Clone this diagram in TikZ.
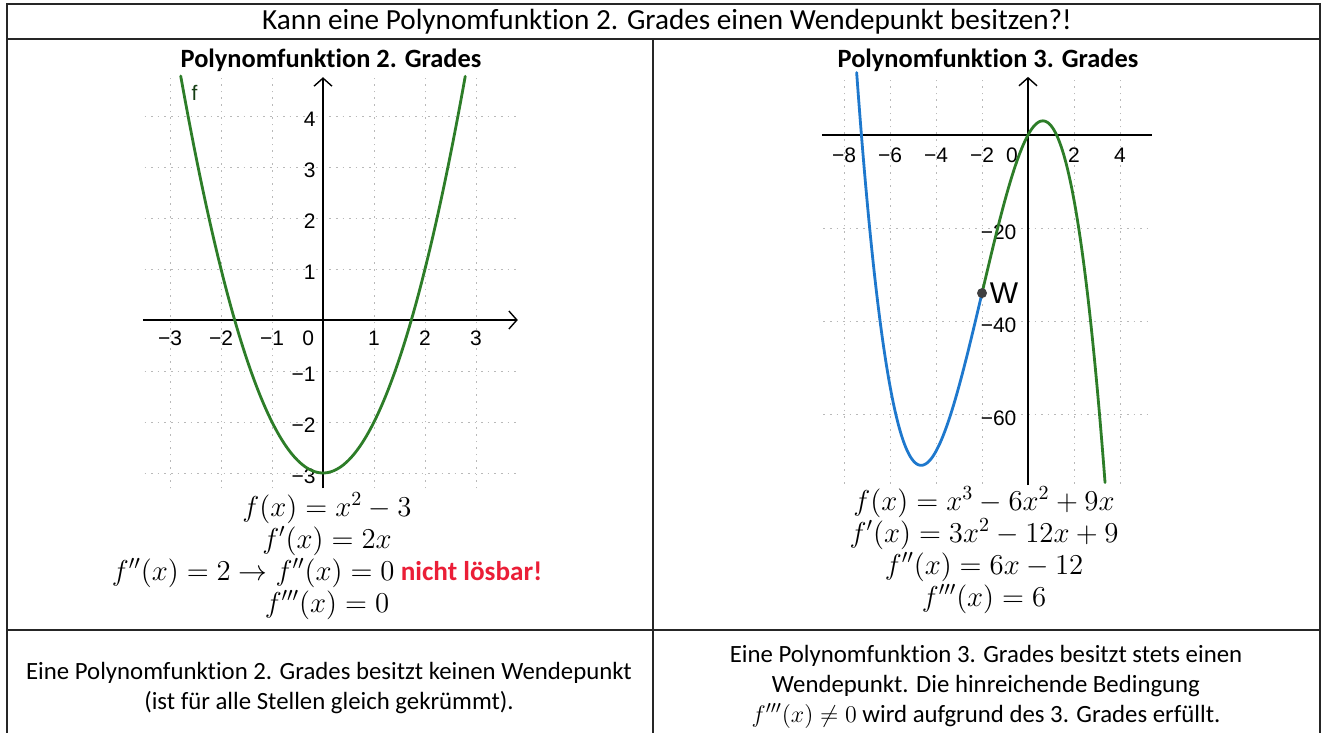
\documentclass[tikz,border=0pt]{standalone}
\usepackage{fontspec}
\setmainfont{Carlito}[Ligatures=NoCommon]
\newfontfamily\axisfont{Liberation Sans}
\usetikzlibrary{arrows.meta,positioning}

\definecolor{curvegreen}{RGB}{45,125,40}
\definecolor{curveblue}{RGB}{30,120,205}
\definecolor{hintred}{RGB}{235,30,55}
\definecolor{gridgray}{RGB}{185,185,185}

\begin{document}
\begin{tikzpicture}[
  x=0.5pt, y=-0.5pt,
  tab/.style={line width=0.9pt, draw=black!85},
  head/.style={font=\bfseries\fontsize{13.2}{15}\selectfont},
  eqs/.style={align=center, font=\fontsize{13.6}{16}\selectfont},
  note/.style={align=center, font=\fontsize{12.4}{15}\selectfont},
  tick/.style={font=\axisfont\fontsize{10.5}{11}\selectfont, inner sep=1pt},
  axis/.style={line width=0.7pt, -{Straight Barb[length=4pt,width=9pt]}},
  gridline/.style={gridgray, line width=0.4pt, dash pattern=on 0.8pt off 2.5pt},
  graph/.style={line width=1.4pt, line cap=round}
]
\fill[white] (0,0) rectangle (1327,733);
\useasboundingbox (0,0) rectangle (1327,733);

% table
\draw[tab] (7,733) -- (7,4) -- (1320,4) -- (1320,733);
\draw[tab] (7,39) -- (1320,39);
\draw[tab] (653,39) -- (653,733);
\draw[tab] (7,630) -- (1320,630);

\node[font=\fontsize{14.6}{16}\selectfont] (title) at (667,22) {Kann eine Polynomfunktion 2. Grades einen Wendepunkt besitzen?!};
\node[head] (headleft) at (331,60) {Polynomfunktion 2. Grades};
\node[head] (headright) at (988,60) {Polynomfunktion 3. Grades};

% f(x) = x^2 - 3
\begin{scope}[shift={(323,320)}, x=25.5pt, y=25.5pt]
  \foreach \gx in {-3,...,3}
    \draw[gridline] (\gx,-3.3) -- (\gx,4.8);
  \foreach \gy in {-3,...,4}
    \draw[gridline] (-3.5,\gy) -- (3.8,\gy);
  \draw[axis] (-3.53,0) -- (3.82,0);
  \draw[axis] (0,-3.3) -- (0,4.76);
  \foreach \gx/\lab in {-3/−3,-2/−2,-1/−1,1/1,2/2,3/3}
    \node[tick] at (\gx,-0.36) {\lab};
  \node[tick] at (-0.29,-0.36) {0};
  \foreach \gy/\lab in {-3/−3,-2/−2,-1/−1,1/1,2/2,3/3,4/4}
    \node[tick, anchor=east] at (-0.1,\gy-0.07) {\lab};
  \draw[graph, curvegreen] plot[domain=-2.79:2.79, samples=90, smooth] (\x,{(\x)*(\x)-3});
  \node[tick, text=curvegreen!50!black] (flab) at (-2.52,4.45) {f};
\end{scope}

% f(x) = x^3 - 6x^2 + 9x
\begin{scope}[shift={(1028,135)}, x=11.5pt, y=2.325pt]
  \foreach \gx in {-8,-6,...,4}
    \draw[gridline] (\gx,-75) -- (\gx,12.5);
  \foreach \gy in {-60,-40,-20}
    \draw[gridline] (-8.9,\gy) -- (5.3,\gy);
  \draw[line width=0.7pt] (-8.96,0) -- (5.39,0);
  \draw[axis] (0,-75.3) -- (0,12.5);
  \foreach \gx/\lab in {-8/−8,-6/−6,-4/−4,-2/−2,2/2,4/4}
    \node[tick] at (\gx,-4.3) {\lab};
  \node[tick] at (-0.7,-4.3) {0};
  \foreach \gy/\lab in {-20/−20,-40/−40,-60/−60}
    \node[tick, anchor=east] at (-0.4,\gy-0.9) {\lab};
  \draw[graph, curveblue] plot[domain=-7.45:-2, samples=90, smooth] (\x,{-(\x)*(\x)*(\x)-6*(\x)*(\x)+9*(\x)});
  \draw[graph, curvegreen] plot[domain=-2:3.35, samples=90, smooth] (\x,{-(\x)*(\x)*(\x)-6*(\x)*(\x)+9*(\x)});
  \node[circle, fill=black!75, minimum size=5pt, inner sep=0pt] (wp) at (-2,-34) {};
  \node[font=\axisfont\fontsize{15}{15}\selectfont, inner sep=1pt, right=0pt of wp] (wlab) {W};
\end{scope}

\node[eqs] (eqleft) at (327,556) {$f(x)=x^2-3$\\
  $f'(x)=2x$\\
  $f''(x)=2\rightarrow f''(x)=0$ \textcolor{hintred}{\bfseries nicht lösbar!}\\
  $f'''(x)=0$};
\node[eqs] (eqright) at (984,550) {$f(x)=x^3-6x^2+9x$\\
  $f'(x)=3x^2-12x+9$\\
  $f''(x)=6x-12$\\
  $f'''(x)=6$};

\node[note] (noteleft) at (329,688) {Eine Polynomfunktion 2. Grades besitzt keinen Wendepunkt\\
  (ist für alle Stellen gleich gekrümmt).};
\node[note] (noteright) at (986,687) {Eine Polynomfunktion 3. Grades besitzt stets einen\\
  Wendepunkt. Die hinreichende Bedingung\\
  $f'''(x)\neq 0$ wird aufgrund des 3. Grades erfüllt.};
\end{tikzpicture}
\end{document}
